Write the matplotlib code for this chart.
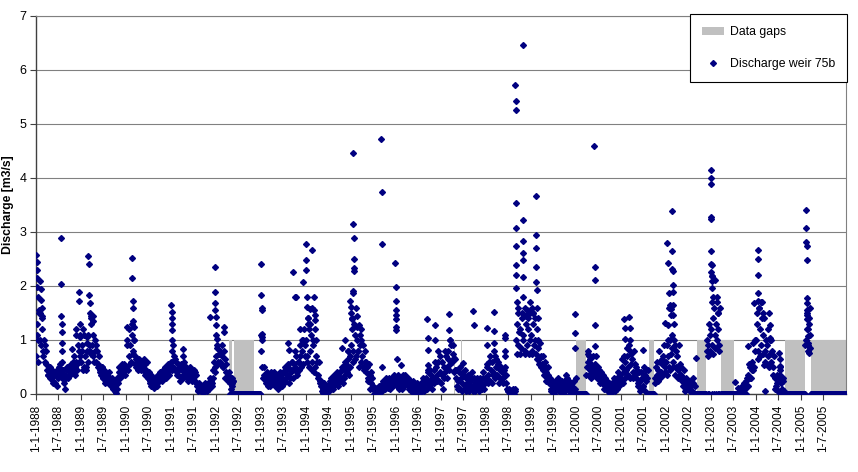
import datetime as dt
import matplotlib
matplotlib.use('Agg')
import matplotlib.pyplot as plt
import matplotlib.dates as mdates
from matplotlib.patches import Patch
from matplotlib.lines import Line2D

# ---------- DATA ----------
years = list(range(1988, 2006))
slot_days = [1, 11, 21]     # q_ lists: 1st, 11th, 21st of each month
slot_days_b = [6, 16, 26]   # r_ lists: 6th, 16th, 26th of each month

q_1988 = [0.7, 1.3, 1.0, 1.5, 0.9, 1.2, 0.7, 0.9, 0.55, 0.45, 0.35, 0.5,
          0.3, 0.4, 0.25, 0.2, 0.35, 0.45, 0.4, 0.55, 0.4, 0.3, 0.45, 0.1,
          0.3, 0.5, 0.35, 0.45, 0.55, 0.4, 0.5, 0.35, 0.6, 0.55, 0.8, 0.7]
q_1989 = [0.6, 0.9, 0.5, 0.7, 0.45, 0.8, 1.1, 0.8, 1.3, 0.9, 0.7, 1.0,
          0.6, 0.8, 0.5, 0.45, 0.35, 0.5, 0.3, 0.4, 0.25, 0.35, 0.2, 0.3,
          0.15, 0.25, 0.1, 0.05, 0.02, 0.3, 0.4, 0.3, 0.45, 0.5, 0.35, 0.45]
q_1990 = [0.5, 1.0, 0.7, 0.9, 0.6, 1.1, 0.8, 0.55, 0.65, 0.6, 0.5, 0.55,
          0.45, 0.6, 0.5, 0.55, 0.45, 0.4, 0.3, 0.2, 0.35, 0.15, 0.25, 0.2,
          0.3, 0.2, 0.35, 0.3, 0.4, 0.35, 0.45, 0.4, 0.3, 0.4, 0.5, 0.45]
q_1991 = [0.6, 0.8, 0.5, 0.45, 0.6, 0.4, 0.35, 0.5, 0.3, 0.45, 0.35, 0.5,
          0.4, 0.3, 0.45, 0.35, 0.45, 0.25, 0.3, 0.4, 0.2, 0.15, 0.08, 0.1,
          0.05, 0.1, 0.03, 0.08, 0.15, 0.1, 0.2, 0.15, 0.25, 0.2, 0.3, 0.4]
q_1992 = [0.7, 0.9, 0.6, 0.8, 0.55, 0.7, 0.5, 0.65, 0.4, 0.3, 0.35, 0.0,
          0.0, 0.2, 0.0, 0.0, 0.0, 0.0, 0.0, 0.0, 0.0, 0.0, 0.0, 0.0,
          0.0, 0.0, 0.0, 0.0, 0.0, 0.0, 0.0, 0.0, 0.0, 0.0, 0.0, 0.0]
q_1993 = [0.8, 0.5, 0.35, 0.3, 0.25, 0.35, 0.2, 0.3, 0.25, 0.35, 0.2, 0.3,
          0.15, 0.25, 0.3, 0.2, 0.35, 0.3, 0.4, 0.25, 0.45, 0.35, 0.5, 0.3,
          0.4, 0.6, 0.45, 0.5, 0.7, 0.4, 0.6, 0.9, 0.5, 0.8, 1.0, 0.7]
q_1994 = [1.0, 0.7, 1.2, 0.8, 1.1, 0.6, 0.9, 0.5, 1.0, 0.6, 0.35, 0.25,
          0.15, 0.05, 0.1, 0.02, 0.1, 0.05, 0.15, 0.2, 0.1, 0.25, 0.15, 0.3,
          0.2, 0.35, 0.25, 0.4, 0.3, 0.45, 0.5, 0.35, 0.55, 0.45, 0.65, 0.5]
q_1995 = [0.9, 1.2, 0.8, 1.1, 0.7, 1.0, 0.8, 1.1, 0.6, 0.7, 0.5, 0.6,
          0.4, 0.5, 0.3, 0.35, 0.2, 0.3, 0.1, 0.05, 0.02, 0.05, 0.1, 0.03,
          0.15, 0.1, 0.2, 0.25, 0.15, 0.2, 0.15, 0.25, 0.2, 0.3, 0.2, 0.25]
q_1996 = [0.3, 0.2, 0.25, 0.15, 0.3, 0.2, 0.25, 0.2, 0.3, 0.2, 0.15, 0.25,
          0.2, 0.1, 0.15, 0.08, 0.15, 0.05, 0.1, 0.02, 0.12, 0.15, 0.25, 0.1,
          0.3, 0.2, 0.4, 0.25, 0.35, 0.2, 0.45, 0.3, 0.5, 0.35, 0.6, 0.4]
q_1997 = [0.2, 0.35, 0.5, 0.4, 0.7, 0.5, 0.8, 0.55, 0.9, 0.6, 0.75, 0.45,
          0.3, 0.15, 0.25, 0.1, 0.3, 0.2, 0.35, 0.15, 0.05, 0.2, 0.1, 0.25,
          0.15, 0.3, 0.1, 0.2, 0.1, 0.15, 0.25, 0.1, 0.2, 0.15, 0.3, 0.2]
q_1998 = [0.3, 0.5, 0.35, 0.25, 0.45, 0.6, 0.4, 0.7, 0.5, 0.35, 0.55, 0.3,
          0.25, 0.4, 0.3, 0.5, 0.2, 0.1, 0.05, 0.08, 0.02, 0.05, 0.03, 0.1,
          1.0, 1.3, 0.9, 1.2, 0.85, 1.4, 1.1, 0.8, 1.3, 0.9, 1.2, 1.0]
q_1999 = [1.1, 0.8, 1.3, 1.0, 0.75, 1.2, 0.85, 0.65, 0.7, 0.55, 0.45, 0.5,
          0.4, 0.3, 0.35, 0.2, 0.1, 0.25, 0.15, 0.05, 0.2, 0.1, 0.25, 0.15,
          0.05, 0.2, 0.1, 0.25, 0.15, 0.3, 0.1, 0.2, 0.05, 0.15, 0.02, 0.0]
q_2000 = [0.3, 0.0, 0.0, 0.0, 0.0, 0.0, 0.0, 0.0, 0.0, 0.5, 0.6, 0.45,
          0.55, 0.4, 0.5, 0.45, 0.35, 0.4, 0.3, 0.35, 0.25, 0.2, 0.25, 0.15,
          0.1, 0.15, 0.05, 0.1, 0.03, 0.12, 0.2, 0.15, 0.25, 0.3, 0.2, 0.35]
q_2001 = [0.3, 0.5, 0.4, 0.6, 0.45, 0.7, 0.5, 0.8, 0.55, 0.65, 0.4, 0.55,
          0.3, 0.45, 0.2, 0.25, 0.1, 0.3, 0.15, 0.35, 0.45, 0.3, 0.0, 0.0,
          0.0, 0.0, 0.0, 0.3, 0.5, 0.35, 0.45, 0.6, 0.4, 0.55, 0.7, 0.5]
q_2002 = [0.6, 0.9, 0.7, 1.0, 0.75, 0.85, 0.6, 0.9, 0.5, 0.7, 0.45, 0.55,
          0.35, 0.25, 0.3, 0.2, 0.15, 0.1, 0.1, 0.05, 0.15, 0.05, 0.2, 0.0,
          0.0, 0.0, 0.0, 0.0, 0.0, 0.0, 0.0, 0.0, 0.0, 1.0, 0.9, 0.8]
q_2003 = [1.2, 0.9, 1.4, 1.1, 1.3, 1.0, 1.2, 0.9, 0.0, 0.0, 0.0, 0.0,
          0.0, 0.0, 0.0, 0.0, 0.0, 0.0, 0.0, 0.23, 0.0, 0.0, 0.11, 0.0,
          0.0, 0.15, 0.0, 0.1, 0.0, 0.3, 0.35, 0.5, 0.3, 0.6, 0.45, 0.8]
q_2004 = [1.0, 1.3, 0.8, 1.2, 0.9, 1.4, 1.1, 0.8, 1.0, 0.9, 0.7, 1.0,
          0.6, 0.8, 0.5, 0.3, 0.15, 0.2, 0.05, 0.35, 0.2, 0.1, 0.25, 0.0,
          0.0, 0.0, 0.0, 0.0, 0.0, 0.0, 0.0, 0.0, 0.0, 0.0, 0.0, 0.0]
q_2005 = [0.0, 0.0, 0.0, 0.0, 1.0, 1.2, 0.9, 1.1, 0.0, 0.0, 0.0, 0.0,
          0.0, 0.0, 0.0, 0.0, 0.0, 0.0, 0.0, 0.0, 0.0, 0.0, 0.0, 0.0,
          0.0, 0.0, 0.0, 0.0, 0.0, 0.0, 0.0, 0.0, 0.0, 0.0, 0.0, 0.0]

r_1988 = [1.1, 0.6, 1.5, 1.0, 1.4, 0.8, 1.0, 0.6, 0.8, 0.35, 0.5, 0.3,
          0.45, 0.2, 0.35, 0.4, 0.15, 0.3, 0.5, 0.35, 0.6, 0.45, 0.2, 0.35,
          0.45, 0.3, 0.5, 0.35, 0.4, 0.6, 0.7, 0.5, 0.45, 0.9, 0.6, 1.1]
r_1989 = [0.8, 0.45, 1.1, 0.5, 0.95, 0.6, 0.9, 1.5, 0.75, 1.1, 0.6, 0.8,
          0.9, 0.55, 0.7, 0.4, 0.5, 0.3, 0.45, 0.2, 0.35, 0.25, 0.4, 0.2,
          0.3, 0.15, 0.25, 0.15, 0.1, 0.2, 0.5, 0.35, 0.55, 0.4, 0.55, 0.35]
r_1990 = [0.9, 0.45, 1.2, 0.55, 1.3, 0.75, 1.0, 0.7, 0.5, 0.45, 0.65, 0.5,
          0.6, 0.45, 0.65, 0.35, 0.6, 0.3, 0.4, 0.25, 0.15, 0.3, 0.12, 0.25,
          0.15, 0.35, 0.25, 0.4, 0.25, 0.45, 0.3, 0.5, 0.45, 0.55, 0.35, 0.5]
r_1991 = [0.45, 0.9, 0.7, 0.65, 0.35, 0.55, 0.5, 0.25, 0.55, 0.3, 0.6, 0.35,
          0.5, 0.25, 0.35, 0.5, 0.3, 0.4, 0.45, 0.25, 0.35, 0.05, 0.2, 0.12,
          0.15, 0.02, 0.12, 0.2, 0.05, 0.18, 0.1, 0.3, 0.15, 0.45, 0.6, 0.5]
r_1992 = [0.85, 0.55, 0.75, 0.6, 0.9, 0.5, 0.8, 0.3, 0.55, 0.25, 0.4, 0.2,
          0.2, 0.25, 0.0, 0.0, 0.0, 0.0, 0.0, 0.0, 0.0, 0.0, 0.0, 0.0,
          0.0, 0.0, 0.0, 0.0, 0.0, 0.0, 0.0, 0.0, 0.0, 0.0, 0.0, 0.0]
r_1993 = [1.0, 0.3, 0.5, 0.2, 0.4, 0.15, 0.35, 0.15, 0.4, 0.2, 0.4, 0.15,
          0.35, 0.1, 0.2, 0.4, 0.15, 0.25, 0.2, 0.5, 0.3, 0.55, 0.2, 0.45,
          0.6, 0.3, 0.55, 0.8, 0.35, 0.6, 0.45, 0.7, 1.0, 0.55, 1.2, 0.9]
r_1994 = [0.6, 1.4, 0.5, 1.3, 0.45, 1.0, 0.4, 1.2, 0.7, 0.3, 0.6, 0.2,
          0.25, 0.02, 0.2, 0.12, 0.0, 0.08, 0.05, 0.25, 0.3, 0.1, 0.35, 0.2,
          0.4, 0.15, 0.3, 0.25, 0.5, 0.2, 0.3, 0.6, 0.4, 0.8, 0.35, 0.7]
r_1995 = [1.4, 0.6, 1.3, 0.65, 1.25, 0.8, 0.5, 0.9, 1.0, 0.9, 0.45, 0.8,
          0.6, 0.25, 0.55, 0.1, 0.4, 0.15, 0.0, 0.12, 0.08, 0.0, 0.15, 0.06,
          0.05, 0.25, 0.12, 0.1, 0.3, 0.12, 0.3, 0.1, 0.25, 0.15, 0.35, 0.2]
r_1996 = [0.15, 0.35, 0.1, 0.3, 0.1, 0.35, 0.15, 0.35, 0.2, 0.3, 0.1, 0.2,
          0.05, 0.25, 0.2, 0.0, 0.2, 0.12, 0.0, 0.18, 0.05, 0.3, 0.05, 0.2,
          0.1, 0.45, 0.15, 0.45, 0.1, 0.3, 0.2, 0.6, 0.25, 0.8, 0.25, 0.7]
r_1997 = [0.6, 0.1, 0.3, 0.8, 0.3, 0.65, 0.45, 1.0, 0.6, 0.9, 0.4, 0.65,
          0.45, 0.1, 0.4, 0.5, 0.05, 0.4, 0.1, 0.45, 0.3, 0.35, 0.05, 0.15,
          0.4, 0.05, 0.3, 0.05, 0.3, 0.2, 0.05, 0.3, 0.1, 0.4, 0.1, 0.3]
r_1998 = [0.55, 0.2, 0.6, 0.7, 0.2, 0.35, 0.8, 0.3, 0.65, 0.6, 0.2, 0.45,
          0.5, 0.2, 0.45, 0.7, 0.35, 0.05, 0.1, 0.0, 0.06, 0.1, 0.0, 0.05,
          0.75, 1.6, 1.15, 0.75, 1.5, 1.0, 1.45, 0.75, 1.55, 1.4, 0.75, 1.5]
r_1999 = [0.75, 1.5, 0.9, 1.4, 0.65, 1.0, 0.55, 0.95, 0.5, 0.7, 0.35, 0.6,
          0.25, 0.5, 0.2, 0.3, 0.05, 0.2, 0.0, 0.25, 0.08, 0.3, 0.05, 0.2,
          0.25, 0.0, 0.2, 0.05, 0.35, 0.1, 0.25, 0.0, 0.2, 0.0, 0.25, 0.1]
r_2000 = [0.0, 0.0, 0.0, 0.0, 0.0, 0.0, 0.0, 0.0, 0.35, 0.75, 0.35, 0.65,
          0.3, 0.7, 0.35, 0.55, 0.3, 0.5, 0.45, 0.2, 0.4, 0.35, 0.1, 0.3,
          0.25, 0.05, 0.2, 0.02, 0.2, 0.05, 0.3, 0.05, 0.1, 0.4, 0.15, 0.25]
r_2001 = [0.65, 0.2, 0.7, 0.3, 0.85, 0.35, 0.9, 0.3, 0.75, 0.3, 0.8, 0.35,
          0.5, 0.15, 0.4, 0.05, 0.4, 0.15, 0.5, 0.05, 0.25, 0.45, 0.0, 0.0,
          0.0, 0.0, 0.0, 0.2, 0.6, 0.25, 0.8, 0.3, 0.65, 0.35, 0.9, 0.4]
r_2002 = [0.35, 1.0, 0.5, 0.45, 1.1, 0.5, 1.0, 0.35, 0.8, 0.3, 0.9, 0.35,
          0.5, 0.15, 0.45, 0.05, 0.3, 0.2, 0.25, 0.05, 0.2, 0.3, 0.02, 0.15,
          0.0, 0.0, 0.0, 0.0, 0.0, 0.0, 0.0, 0.0, 0.8, 0.7, 1.3, 1.1]
r_2003 = [1.7, 0.75, 1.6, 0.85, 1.8, 1.5, 0.8, 1.6, 0.0, 0.0, 0.0, 0.0,
          0.0, 0.0, 0.0, 0.0, 0.0, 0.0, 0.0, 0.0, 0.0, 0.0, 0.0, 0.0,
          0.05, 0.0, 0.2, 0.0, 0.25, 0.15, 0.55, 0.3, 0.45, 0.95, 0.5, 1.0]
r_2004 = [1.5, 0.65, 1.6, 0.7, 1.7, 0.75, 1.4, 0.6, 0.55, 1.2, 0.5, 0.75,
          1.0, 0.35, 0.7, 0.1, 0.35, 0.05, 0.3, 0.5, 0.02, 0.3, 0.05, 0.0,
          0.0, 0.0, 0.0, 0.0, 0.0, 0.0, 0.0, 0.0, 0.0, 0.0, 0.0, 0.0]
r_2005 = [0.0, 0.0, 0.0, 0.9, 1.5, 0.8, 1.3, 0.85, 0.0, 0.0, 0.0, 0.0,
          0.0, 0.0, 0.0, 0.0, 0.0, 0.0, 0.0, 0.0, 0.0, 0.0, 0.0, 0.0,
          0.0, 0.0, 0.0, 0.0, 0.0, 0.0, 0.0, 0.0, 0.0, 0.0, 0.0, 0.0]

q_series = [q_1988, q_1989, q_1990, q_1991, q_1992, q_1993, q_1994,
            q_1995, q_1996, q_1997, q_1998, q_1999, q_2000, q_2001,
            q_2002, q_2003, q_2004, q_2005]
r_series = [r_1988, r_1989, r_1990, r_1991, r_1992, r_1993, r_1994,
            r_1995, r_1996, r_1997, r_1998, r_1999, r_2000, r_2001,
            r_2002, r_2003, r_2004, r_2005]

# single days (peaks and extra readings)
peaks = [
    ('1988-01-05', 2.58), ('1988-01-07', 2.45), ('1988-01-09', 2.3), ('1988-01-11', 2.15),
    ('1988-01-13', 1.98), ('1988-01-15', 1.8), ('1988-01-25', 1.55), ('1988-02-05', 2.1),
    ('1988-02-08', 1.95), ('1988-02-10', 1.75), ('1988-02-15', 1.6), ('1988-02-20', 1.45),
    ('1988-07-22', 2.89), ('1988-07-23', 2.04), ('1988-07-25', 1.45), ('1988-07-26', 1.3),
    ('1988-07-27', 1.15), ('1988-07-28', 0.95), ('1988-07-30', 0.8), ('1988-10-20', 0.84),
    ('1988-11-20', 1.2), ('1988-11-22', 1.1), ('1988-12-15', 1.89), ('1988-12-17', 1.72),
    ('1988-12-20', 1.3), ('1988-12-25', 1.05),
    ('1989-01-20', 1.2), ('1989-02-15', 1.05), ('1989-03-02', 2.55), ('1989-03-04', 2.4),
    ('1989-03-10', 1.83), ('1989-03-12', 1.68), ('1989-03-20', 1.45), ('1989-03-25', 1.4),
    ('1989-04-05', 1.36), ('1989-04-08', 1.45),
    ('1990-01-05', 1.25), ('1990-02-20', 2.52), ('1990-02-22', 2.14), ('1990-02-24', 1.73),
    ('1990-02-26', 1.6), ('1990-02-28', 1.36), ('1990-03-05', 1.25), ('1990-03-10', 1.0),
    ('1991-01-04', 1.64), ('1991-01-05', 1.52), ('1991-01-06', 1.4), ('1991-01-07', 1.3),
    ('1991-01-08', 1.18), ('1991-01-10', 1.0), ('1991-04-05', 0.84), ('1991-04-08', 0.7),
    ('1991-11-15', 1.43), ('1991-12-25', 2.36), ('1991-12-26', 1.89), ('1991-12-27', 1.69),
    ('1991-12-28', 1.55), ('1991-12-30', 1.43),
    ('1992-01-02', 1.27), ('1992-01-04', 1.1), ('1992-01-06', 1.02), ('1992-03-05', 1.24),
    ('1992-03-08', 1.15), ('1992-05-03', 0.1), ('1992-05-08', 0.3), ('1992-05-14', 0.15),
    ('1992-05-18', 0.25), ('1992-12-28', 1.1),
    ('1993-01-03', 2.41), ('1993-01-04', 1.83), ('1993-01-05', 1.6), ('1993-01-06', 1.55),
    ('1993-01-08', 1.12), ('1993-01-10', 1.06), ('1993-08-10', 0.95), ('1993-08-15', 0.82),
    ('1993-09-15', 2.26), ('1993-10-05', 1.8), ('1993-10-12', 1.8), ('1993-11-10', 1.2),
    ('1993-12-10', 2.07), ('1993-12-28', 2.78), ('1993-12-29', 2.49), ('1993-12-30', 2.3),
    ('1994-01-05', 1.8), ('1994-01-07', 1.62), ('1994-01-15', 1.4), ('1994-01-20', 1.3),
    ('1994-01-30', 1.57), ('1994-02-20', 2.67), ('1994-02-22', 1.6), ('1994-03-05', 1.8),
    ('1994-03-07', 1.56), ('1994-03-12', 1.46), ('1994-03-15', 1.37), ('1994-10-20', 0.85),
    ('1994-11-15', 1.0), ('1994-12-05', 0.8), ('1994-12-25', 1.72),
    ('1995-01-01', 1.62), ('1995-01-05', 1.5), ('1995-01-10', 1.38), ('1995-01-18', 1.87),
    ('1995-01-19', 1.9), ('1995-01-20', 4.46), ('1995-01-21', 3.15), ('1995-01-22', 2.89),
    ('1995-01-23', 2.5), ('1995-01-24', 2.33), ('1995-01-25', 2.27), ('1995-02-10', 1.6),
    ('1995-02-20', 1.45), ('1995-03-10', 1.27), ('1995-03-20', 1.2), ('1995-09-05', 4.73),
    ('1995-09-06', 3.75), ('1995-09-07', 2.78), ('1995-09-10', 0.5), ('1995-12-28', 2.43),
    ('1995-12-29', 1.99), ('1995-12-30', 1.72), ('1995-12-31', 1.56),
    ('1996-01-01', 1.47), ('1996-01-02', 1.38), ('1996-01-03', 1.25), ('1996-01-04', 1.19),
    ('1996-01-08', 0.65), ('1996-02-10', 0.54), ('1996-09-12', 1.38), ('1996-09-13', 1.04),
    ('1996-09-14', 0.82), ('1996-09-16', 0.54), ('1996-11-15', 1.28), ('1996-11-16', 1.0),
    ('1997-03-05', 1.49), ('1997-03-10', 1.19), ('1997-03-15', 1.0), ('1997-04-20', 0.66),
    ('1997-06-25', 0.57), ('1997-09-20', 1.54), ('1997-09-22', 1.27),
    ('1998-01-05', 1.23), ('1998-01-07', 0.91), ('1998-03-05', 1.52), ('1998-03-07', 1.17),
    ('1998-03-09', 0.94), ('1998-06-05', 1.09), ('1998-06-06', 1.03), ('1998-06-08', 0.8),
    ('1998-08-28', 5.72), ('1998-08-29', 5.43), ('1998-08-30', 5.26), ('1998-08-31', 3.54),
    ('1998-09-01', 3.08), ('1998-09-02', 2.75), ('1998-09-03', 2.39), ('1998-09-04', 2.2),
    ('1998-09-05', 1.96), ('1998-09-06', 1.71), ('1998-09-15', 1.5), ('1998-10-25', 6.46),
    ('1998-10-26', 3.23), ('1998-10-27', 2.84), ('1998-10-28', 2.62), ('1998-10-29', 2.48),
    ('1998-10-30', 2.16), ('1998-11-01', 1.8), ('1998-11-10', 1.6), ('1998-12-10', 1.5),
    ('1998-12-20', 1.7),
    ('1999-01-10', 1.6), ('1999-01-20', 1.5), ('1999-02-10', 3.67), ('1999-02-11', 2.94),
    ('1999-02-12', 2.71), ('1999-02-13', 2.36), ('1999-02-14', 2.08), ('1999-02-15', 1.93),
    ('1999-02-20', 1.6), ('1999-03-01', 1.4), ('1999-12-25', 1.49), ('1999-12-26', 1.13),
    ('1999-12-27', 0.85),
    ('2000-04-10', 0.8), ('2000-04-12', 0.7), ('2000-05-30', 4.6), ('2000-05-31', 2.36),
    ('2000-06-01', 2.12), ('2000-06-02', 1.27), ('2000-06-03', 0.88), ('2000-06-10', 0.7),
    ('2001-01-29', 1.39), ('2001-01-30', 1.22), ('2001-01-31', 1.02), ('2001-03-10', 1.42),
    ('2001-03-12', 1.22), ('2001-03-15', 1.0), ('2001-06-25', 0.82), ('2001-12-25', 1.31),
    ('2002-01-13', 2.8), ('2002-01-14', 2.43), ('2002-01-15', 1.27), ('2002-01-25', 1.87),
    ('2002-01-27', 1.6), ('2002-02-05', 1.64), ('2002-02-08', 1.58), ('2002-02-12', 1.46),
    ('2002-02-20', 3.38), ('2002-02-21', 2.64), ('2002-02-22', 2.31), ('2002-02-23', 2.28),
    ('2002-02-24', 2.02), ('2002-02-25', 1.88), ('2002-02-26', 1.65), ('2002-02-27', 1.47),
    ('2002-03-10', 1.3), ('2002-08-30', 0.66), ('2002-12-05', 0.0), ('2002-12-15', 0.0),
    ('2002-12-29', 4.15), ('2002-12-30', 4.0), ('2002-12-31', 3.89), ('2003-01-01', 3.27),
    ('2003-01-02', 3.24), ('2003-01-03', 2.65), ('2003-01-04', 2.41), ('2003-01-05', 2.26),
    ('2003-01-06', 2.18), ('2003-01-07', 2.1), ('2003-01-08', 1.96), ('2003-01-12', 2.38),
    ('2003-01-13', 2.19), ('2003-01-20', 1.8), ('2003-02-05', 2.12), ('2003-02-15', 1.7),
    ('2003-03-01', 1.5), ('2003-01-10', 0.0), ('2003-01-25', 0.0), ('2003-02-10', 0.0),
    ('2003-02-25', 0.0), ('2003-03-10', 0.0), ('2003-10-25', 0.88), ('2003-12-20', 1.69),
    ('2004-01-14', 2.67), ('2004-01-15', 2.5), ('2004-01-16', 2.21), ('2004-01-17', 1.87),
    ('2004-01-18', 1.72), ('2004-01-25', 1.6), ('2004-02-10', 1.7), ('2004-03-01', 1.5),
    ('2004-03-10', 0.54), ('2004-03-12', 0.05), ('2004-04-20', 1.5), ('2004-04-22', 1.28),
    ('2004-04-24', 1.04), ('2004-07-10', 0.76), ('2004-07-11', 0.64), ('2004-07-12', 0.51),
    ('2004-07-13', 0.45),
    ('2005-02-12', 3.4), ('2005-02-13', 3.07), ('2005-02-14', 2.81), ('2005-02-15', 2.75),
    ('2005-02-16', 2.48), ('2005-02-17', 1.78), ('2005-02-18', 1.69), ('2005-02-19', 1.56),
    ('2005-02-20', 1.47), ('2005-02-22', 1.38), ('2005-02-24', 1.2), ('2005-02-26', 1.07),
    ('2005-03-01', 0.94), ('2005-03-05', 0.76), ('2005-03-10', 1.4), ('2005-03-15', 1.6),
    ('2005-12-31', 0.0),
]

# data gaps (start, end)
gaps = [
    ('1992-04-17', '1992-05-06'), ('1992-05-25', '1992-11-03'),
    ('1997-04-17', '1997-04-25'), ('1997-06-09', '1997-06-19'),
    ('2000-01-05', '2000-03-24'), ('2001-08-12', '2001-09-28'),
    ('2002-09-13', '2002-11-23'), ('2003-03-26', '2003-07-03'),
    ('2004-08-27', '2005-02-05'), ('2005-03-23', '2006-01-01'),
]
gap_height = 1.0

# ---------- BUILD SERIES ----------
dates = []
values = []
for series, days in ((q_series, slot_days), (r_series, slot_days_b)):
    for year, q in zip(years, series):
        i = 0
        for month in range(1, 13):
            for day in days:
                dates.append(dt.date(year, month, day))
                values.append(q[i])
                i += 1
for d, v in peaks:
    dates.append(dt.date.fromisoformat(d))
    values.append(v)

# ---------- PLOT ----------
plt.rcParams['font.family'] = ['Liberation Sans', 'DejaVu Sans']
navy = '#000080'
grey = '#c0c0c0'

fig = plt.figure(figsize=(8.58, 4.72), dpi=100)
ax = fig.add_axes([36 / 858, 1 - 394 / 472, 810 / 858, 378 / 472])

for start, end in gaps:
    s = mdates.date2num(dt.date.fromisoformat(start))
    e = mdates.date2num(dt.date.fromisoformat(end))
    ax.bar(s, gap_height, width=e - s, align='edge', color=grey, linewidth=0, zorder=1)

ax.plot(mdates.date2num(dates), values, linestyle='none', marker='D', ms=3,
        color=navy, mec=navy, zorder=3)

ax.set_xlim(mdates.date2num(dt.date(1988, 1, 1)), mdates.date2num(dt.date(2006, 1, 1)))
ax.set_ylim(0, 7)
ax.set_yticks(range(0, 8))

tick_dates = [dt.date(y, m, 1) for y in years for m in (1, 7)]
ax.set_xticks(mdates.date2num(tick_dates))
ax.set_xticklabels([f'1-{d.month}-{d.year}' for d in tick_dates], rotation=90)

ax.grid(axis='y', color='#808080', linewidth=0.8)
ax.set_axisbelow(True)
ax.tick_params(axis='y', labelsize=9, length=4, color='#404040', pad=3)
ax.tick_params(axis='x', labelsize=8.5, length=4, color='#404040', pad=4)
for side in ('left', 'bottom'):
    ax.spines[side].set_color('#404040')
    ax.spines[side].set_linewidth(1.0)
for side in ('top', 'right'):
    ax.spines[side].set_color('#808080')
    ax.spines[side].set_linewidth(0.8)

fig.text(0.009, 1 - 205 / 472, 'Discharge [m3/s]', rotation=90, fontsize=8.8,
         fontweight='bold', ha='center', va='center')

handles = [Patch(facecolor=grey, edgecolor='none', label='Data gaps'),
           Line2D([], [], linestyle='none', marker='D', ms=3, color=navy,
                  label='Discharge weir 75b')]
leg = ax.legend(handles=handles, loc='upper right',
                bbox_to_anchor=(847 / 858, 1 - 14 / 472), bbox_transform=fig.transFigure,
                borderaxespad=0, fontsize=8.8, frameon=True, fancybox=False,
                framealpha=1, edgecolor='black', borderpad=1.0, labelspacing=1.6,
                handlelength=1.8, handleheight=0.6, handletextpad=0.45, numpoints=1)
leg.get_frame().set_linewidth(0.8)
leg.set_zorder(5)

fig.savefig('out.png', dpi=100)
